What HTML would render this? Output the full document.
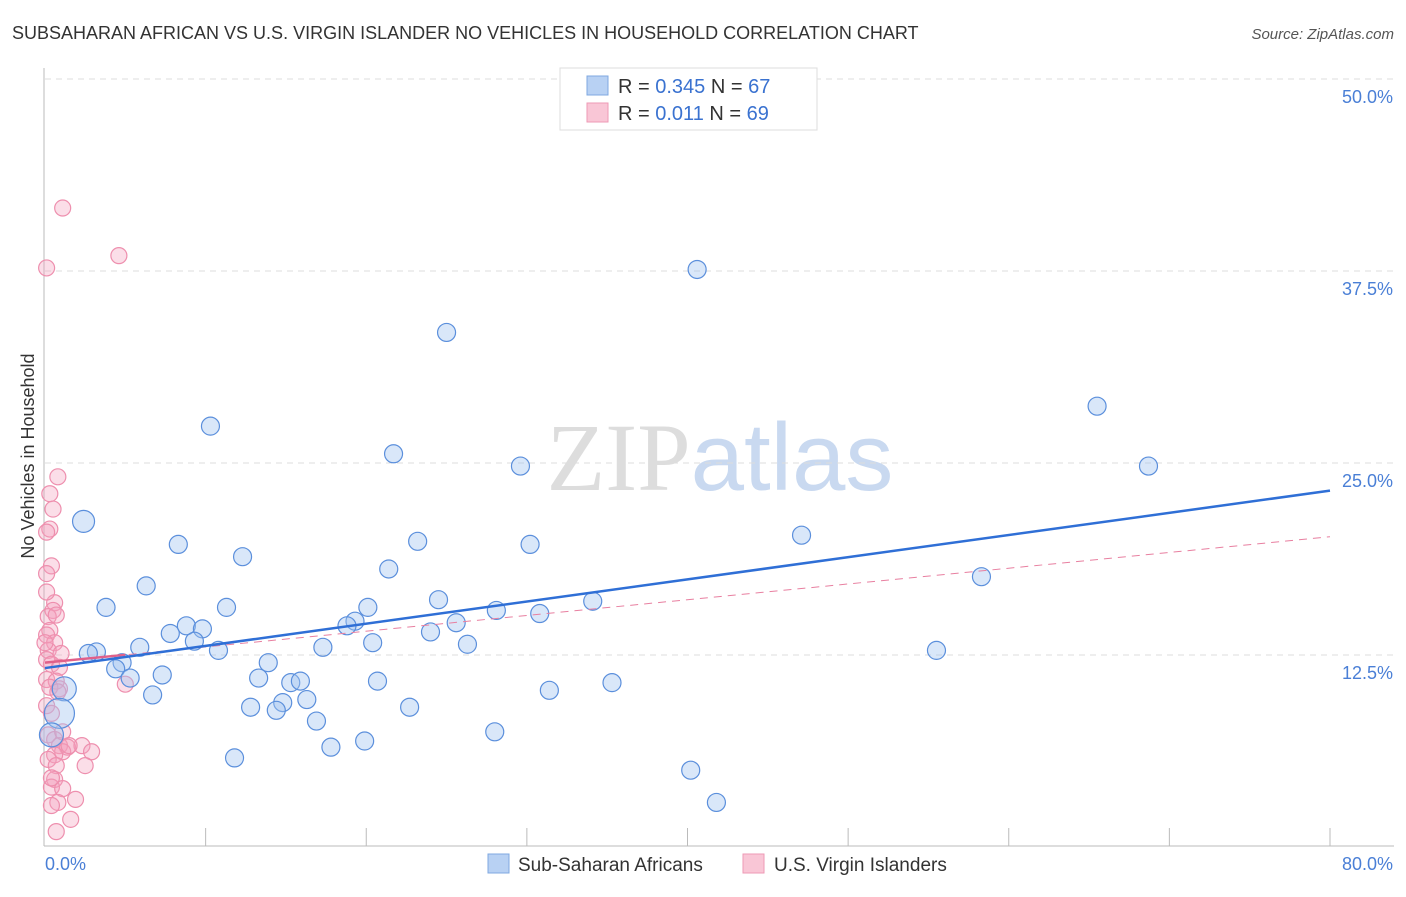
<!DOCTYPE html>
<html><head><meta charset="utf-8"><style>
body{margin:0;background:#fff;font-family:"Liberation Sans",sans-serif}
</style></head><body>
<svg width="1406" height="892" xmlns="http://www.w3.org/2000/svg" font-family="Liberation Sans, sans-serif">
<text x="12" y="39" font-size="18" fill="#333">SUBSAHARAN AFRICAN VS U.S. VIRGIN ISLANDER NO VEHICLES IN HOUSEHOLD CORRELATION CHART</text>
<text x="1394" y="39" font-size="15" fill="#555" text-anchor="end" font-style="italic">Source: ZipAtlas.com</text>
<text x="720" y="490" font-size="96" text-anchor="middle"><tspan fill="#ddd" font-family="Liberation Serif, serif">ZIP</tspan><tspan fill="#c9d9f0">atlas</tspan></text>
<g id="grid"></g>
<line x1="44" y1="68" x2="44" y2="846" stroke="#bbb"/>
<line x1="44" y1="846" x2="1394" y2="846" stroke="#bbb"/>
<g id="xticks"></g>
<text transform="translate(34,456) rotate(-90)" font-size="18" fill="#333" text-anchor="middle">No Vehicles in Household</text>
<text x="45" y="870" font-size="18" fill="#4a7fd6">0.0%</text>
<text x="1393" y="870" font-size="18" fill="#4a7fd6" text-anchor="end">80.0%</text>
<g id="pts"></g>
<g id="lines"></g>
<g>
<rect x="560" y="68" width="257" height="62" fill="#fff" stroke="#ddd"/>
<rect x="587" y="76" width="21" height="19" fill="#b8d1f3" stroke="#7fa8e0"/>
<rect x="587" y="103" width="21" height="19" fill="#f9c6d6" stroke="#ee9ab5"/>
<text x="618" y="93" font-size="20" fill="#333">R = <tspan fill="#3a72d0">0.345</tspan>   N = <tspan fill="#3a72d0">67</tspan></text>
<text x="618" y="120" font-size="20" fill="#333">R =  <tspan fill="#3a72d0">0.011</tspan>   N = <tspan fill="#3a72d0">69</tspan></text>
</g>
<g>
<rect x="488" y="854" width="21" height="19" fill="#b8d1f3" stroke="#7fa8e0"/>
<text x="518" y="871" font-size="19" fill="#333">Sub-Saharan Africans</text>
<rect x="743" y="854" width="21" height="19" fill="#f9c6d6" stroke="#ee9ab5"/>
<text x="774" y="871" font-size="19" fill="#333">U.S. Virgin Islanders</text>
</g>
</svg>
<script>
const yTicks=[12.5,25,37.5,50];
const yTickLabels=["12.5%","25.0%","37.5%","50.0%"];
const xTicks=[10,20,30,40,50,60,70,80];
const blueX=[2.4,1.2,0.9,0.4,10.3,40.6,25,65.5,68.7,21.7,29.6,47.1,58.3,55.5,41.8,40.2,8.3,12.3,6.3,3.8,23.2,30.2,21.4,24.5,20.1,19.3,18.8,28.1,30.8,34.1,11.3,8.8,9.8,7.8,9.3,10.8,5.9,3.2,2.7,4.8,4.4,5.3,7.3,6.7,13.9,13.3,15.3,15.9,20.4,17.3,24,25.6,26.3,20.7,31.4,35.3,16.3,14.8,12.8,14.4,22.7,16.9,28,19.9,17.8,11.8];
const blueY=[21.2,10.3,8.7,7.3,27.4,37.6,33.5,28.7,24.8,25.6,24.8,20.3,17.6,12.8,2.9,5,19.7,18.9,17,15.6,19.9,19.7,18.1,16.1,15.6,14.7,14.4,15.4,15.2,16,15.6,14.4,14.2,13.9,13.4,12.8,13,12.7,12.6,12,11.6,11,11.2,9.9,12,11,10.7,10.8,13.3,13,14,14.6,13.2,10.8,10.2,10.7,9.6,9.4,9.1,8.9,9.1,8.2,7.5,6.9,6.5,5.8];
const blueR=[11,12,15,12,9,9,9,9,9,9,9,9,9,9,9,9,9,9,9,9,9,9,9,9,9,9,9,9,9,9,9,9,9,9,9,9,9,9,9,9,9,9,9,9,9,9,9,9,9,9,9,9,9,9,9,9,9,9,9,9,9,9,9,9,9,9];
const pinkX=[1.1,0.1,4.6,0.8,0.3,0.5,0.3,0.1,0.4,0.1,0.6,0.5,0.2,0.7,0.3,0.1,0.6,0.2,1,0.1,0.4,0.9,0.1,0.7,0.3,0.9,0.1,0.4,5,0.2,0.6,0.9,1.4,1.1,0.6,0.2,2.3,2.9,2.5,0.7,0.6,0.4,1.1,1.9,0.8,0.4,1.6,0.7,0,0.1,0.8,1.1,1.5,0.4];
const pinkY=[41.6,37.7,38.5,24.1,23,22,20.7,20.5,18.3,17.8,15.9,15.4,15,15.1,14.1,13.8,13.3,12.8,12.6,12.2,11.9,11.7,10.9,10.8,10.4,10.3,9.2,8.7,10.6,7.3,7,6.6,6.5,6.2,6,5.7,6.6,6.2,5.3,5.3,4.4,3.9,3.8,3.1,2.9,2.7,1.8,1,13.3,16.6,10.1,7.5,6.6,4.5];
const blueLine=[11.65,23.2];
const pinkLine=[12.0,20.2];
const NS="http://www.w3.org/2000/svg";
const X=v=>45+v/80*1285, Y=v=>847-v*15.36;
function mk(t,a,p){const e=document.createElementNS(NS,t);for(const k in a)e.setAttribute(k,a[k]);document.getElementById(p).appendChild(e);return e;}
yTicks.forEach((t,i)=>{
 const l=mk('line',{x1:45,x2:1394,y1:Y(t),y2:Y(t),stroke:'#ddd','stroke-dasharray':'6 5'},'grid');
 
 
 const tx=mk('text',{x:1393,y:Y(t)+24,'font-size':18,fill:'#4a7fd6','text-anchor':'end'},'grid');
 tx.textContent=yTickLabels[i];
 
 
});
xTicks.forEach(t=>{
 const l=mk('line',{x1:X(t),x2:X(t),y1:828,y2:846,stroke:'#bbb'},'xticks');
 
 
});
pinkX.forEach((v,i)=>{
 const c=mk('circle',{cx:X(v),cy:Y(pinkY[i]),r:8,fill:'rgba(244,160,188,0.35)',stroke:'#ee8fae','stroke-width':1.2},'pts');
 
 
});
blueX.forEach((v,i)=>{
 const c=mk('circle',{cx:X(v),cy:Y(blueY[i]),r:blueR[i],fill:'rgba(160,195,240,0.4)',stroke:'#5b8fdc','stroke-width':1.2},'pts');
 
 
});
let l=mk('line',{x1:X(0),y1:Y(pinkLine[0]),x2:X(80),y2:Y(pinkLine[1]),stroke:'#e87fa0','stroke-width':1,'stroke-dasharray':'8 6'},'lines');


const pe=pinkLine[0]+(pinkLine[1]-pinkLine[0])*5/80;
l=mk('line',{x1:X(0),y1:Y(pinkLine[0]),x2:X(5),y2:Y(pe),stroke:'#e0608a','stroke-width':2.5},'lines');


l=mk('line',{x1:X(0),y1:Y(blueLine[0]),x2:X(80),y2:Y(blueLine[1]),stroke:'#2f6fd6','stroke-width':2.5},'lines');


</script>
</body></html>
